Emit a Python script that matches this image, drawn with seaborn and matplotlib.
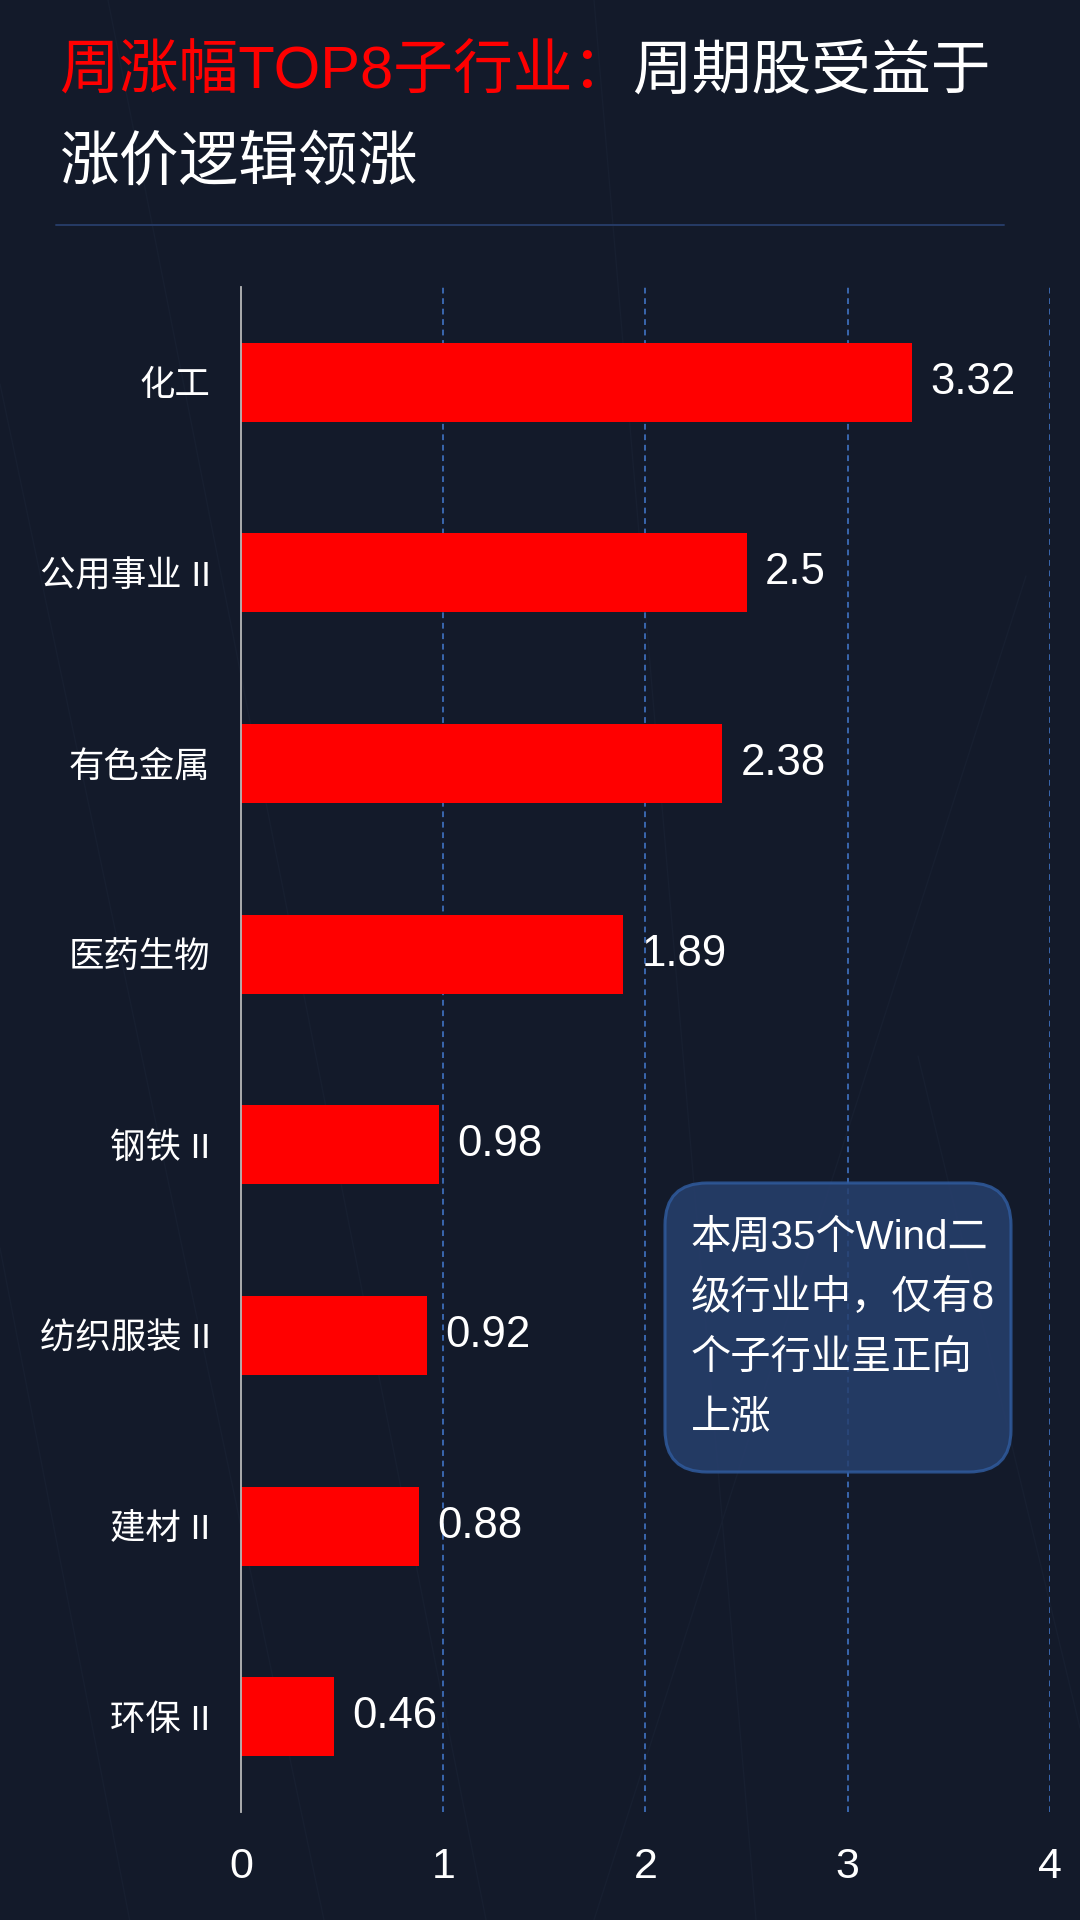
import matplotlib
matplotlib.use("Agg")
import matplotlib.pyplot as plt
import matplotlib.patches as mpatches
from matplotlib.lines import Line2D
from matplotlib.transforms import IdentityTransform
import seaborn as sns
import pandas as pd

# data
industries = ['化工', '公用事业 II', '有色金属', '医药生物', '钢铁 II', '纺织服装 II', '建材 II', '环保 II']
weekly_gain = [3.32, 2.5, 2.38, 1.89, 0.98, 0.92, 0.88, 0.46]
x_ticks = [0, 1, 2, 3, 4]

title_red = '周涨幅TOP8子行业：'
title_white = '周期股受益于'
title_line2 = '涨价逻辑领涨'
note_lines = ['本周35个Wind二', '级行业中，仅有8', '个子行业呈正向', '上涨']

bg = '#131a2a'
df = pd.DataFrame({'industry': industries, 'gain': weekly_gain})

sns.set_style("dark")
# Latin glyphs from Liberation Sans, CJK falls through to Noto Sans CJK
fonts = ['Liberation Sans', 'Noto Sans CJK SC', 'DejaVu Sans']
plt.rcParams['font.family'] = fonts
plt.rcParams['axes.unicode_minus'] = False

fig = plt.figure(figsize=(10.8, 19.2), dpi=100, facecolor=bg)
ax = fig.add_axes([0.2231, 0.05625, 0.7491, 0.7943])
ax.set_facecolor('none')

# faint background perspective lines (decoration only)
for x0, y0, x1, y1 in [(0.0, 0.80, 0.30, 0.0), (0.10, 1.0, 0.45, 0.0), (0.55, 1.0, 0.70, 0.0),
                       (0.85, 0.45, 1.0, 0.10), (0.95, 0.70, 0.55, 0.0), (0.0, 0.35, 0.12, 0.0)]:
    fig.add_artist(Line2D([x0, x1], [y0, y1], color='#171f30', lw=1.0, zorder=0))

sns.barplot(data=df, y='industry', x='gain', orient='h', color='#ff0000',
            width=0.414, saturation=1, linewidth=0, ax=ax, zorder=3)
ax.bar_label(ax.containers[0], fmt='%g', padding=13, color='white', fontsize=31.5)

ax.set_xlim(0, 4)
ax.set_ylim(len(industries) - 0.5, -0.5)
ax.set_xticks(x_ticks)
ax.set_xticklabels([str(t) for t in x_ticks])
ax.set_axisbelow(True)
ax.grid(False)
for t in x_ticks[1:]:
    ax.axvline(t, color='#3d6cb8', lw=1.3, linestyle=(0, (3.2, 2.6)), zorder=1)

for side in ['top', 'right', 'bottom']:
    ax.spines[side].set_visible(False)
ax.spines['left'].set_color('#b8b8b8')
ax.spines['left'].set_linewidth(1.3)
ax.spines['left'].set_zorder(4)

ax.tick_params(axis='x', length=0, pad=25, labelsize=31, labelcolor='white')
ax.tick_params(axis='y', length=0, pad=22, labelsize=25.5, labelcolor='white')
ax.set_xlabel('')
ax.set_ylabel('')

# title, two colours on the first line
t1 = fig.text(59 / 1080, 1 - 73 / 1920, title_red, color='#ff0000', fontsize=43,
              va='center', ha='left')
fig.canvas.draw()
bb = t1.get_window_extent()
fig.text(bb.x1 / 1080, 1 - 73 / 1920, title_white, color='white', fontsize=43,
         va='center', ha='left')
fig.text(59 / 1080, 1 - 163 / 1920, title_line2, color='white', fontsize=43,
         va='center', ha='left')
fig.add_artist(Line2D([56 / 1080, 1004 / 1080], [1 - 225 / 1920] * 2, color='#263b66', lw=1.4))

# note box
box = mpatches.FancyBboxPatch((665, 1920 - 1472), 346, 289,
                              boxstyle='round,pad=0,rounding_size=42',
                              transform=IdentityTransform(), facecolor='#27406e', alpha=0.85,
                              edgecolor='#2f5a9c', linewidth=2.2, zorder=5)
fig.add_artist(box)
for i, line in enumerate(note_lines):
    fig.text(691 / 1080, 1 - (1238 + 60 * i) / 1920, line, color='white', fontsize=29,
             va='center', ha='left', zorder=6)

fig.savefig('out.png', dpi=100, facecolor=bg)
plt.close(fig)
